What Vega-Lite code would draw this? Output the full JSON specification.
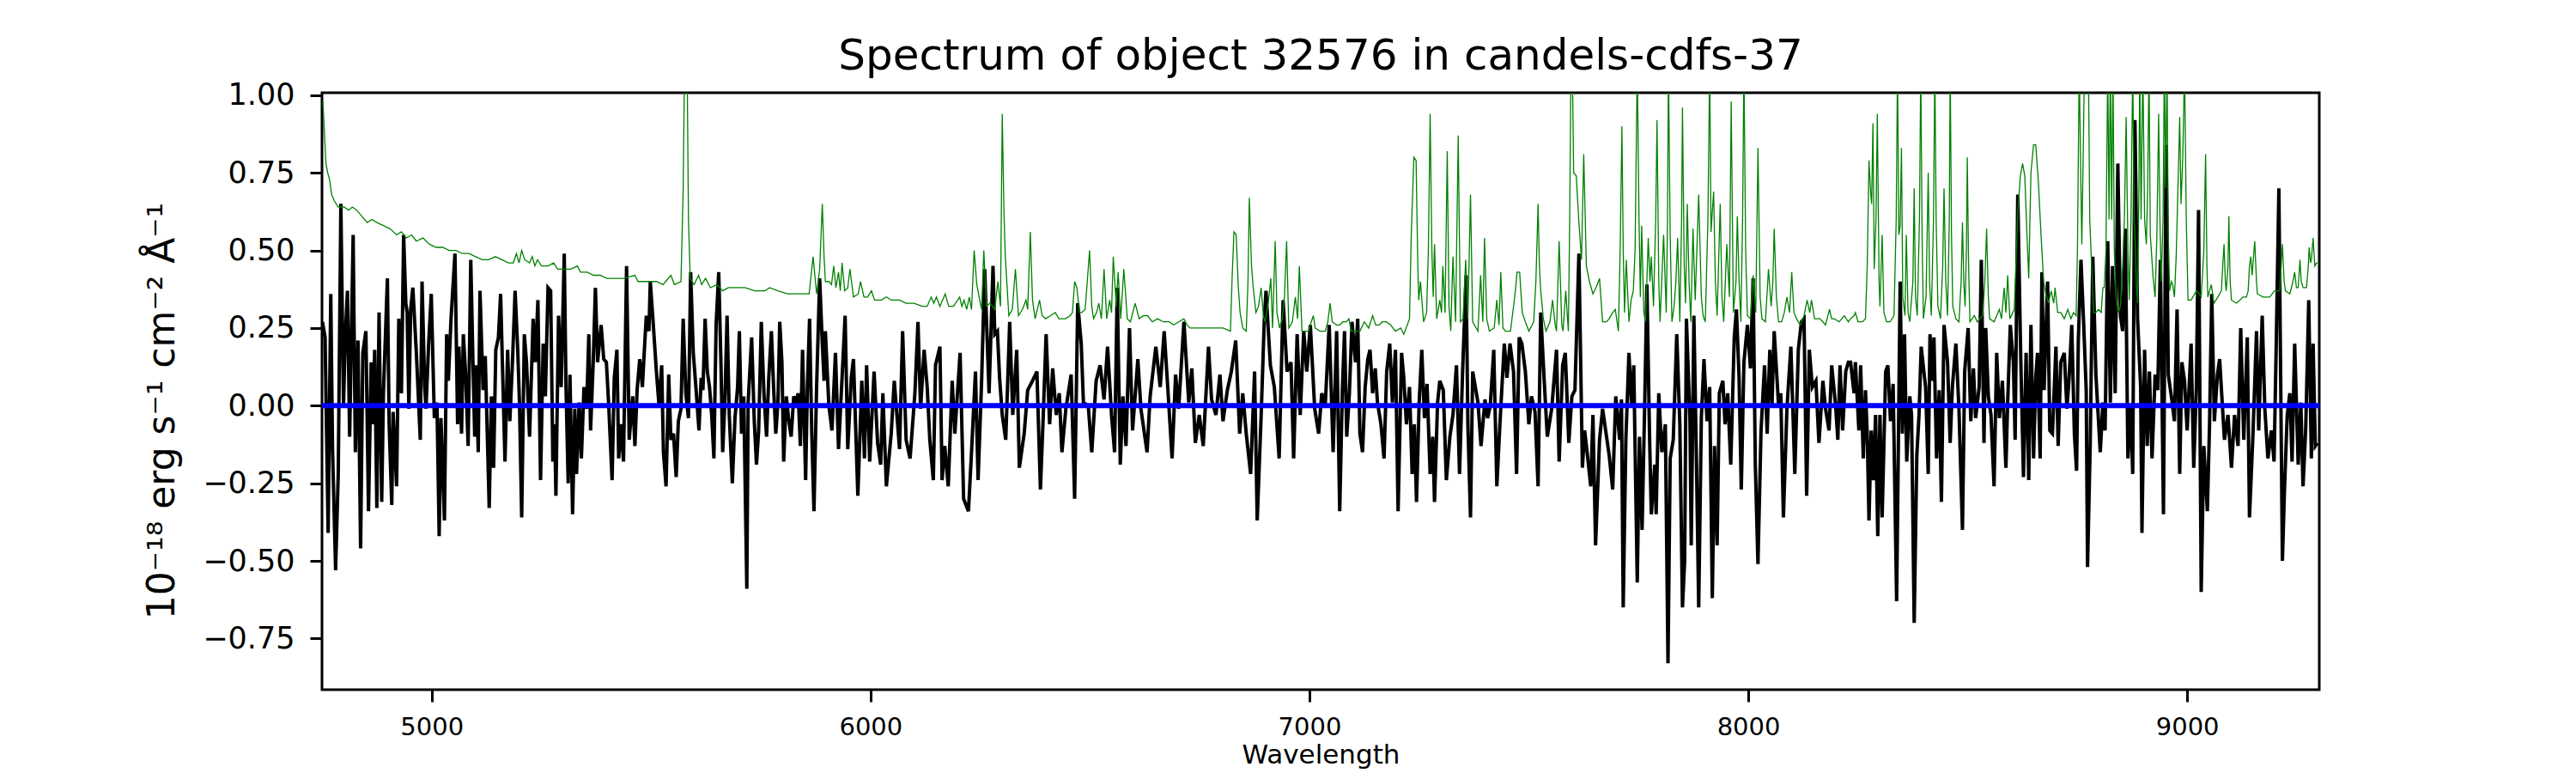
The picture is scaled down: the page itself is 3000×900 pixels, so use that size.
{
  "$schema": "https://vega.github.io/schema/vega-lite/v6.json",
  "description": "Spectrum of object 32576: flux (black), noise (green) and zero model (blue).",
  "autosize": {"type": "none"},
  "padding": {"left": 375, "top": 108, "right": 299, "bottom": 97},
  "width": 2326,
  "height": 695,
  "background": "white",
  "title": {
    "text": "Spectrum of object 32576 in candels-cdfs-37",
    "font": "DejaVu Sans",
    "fontSize": 50,
    "fontWeight": "normal",
    "color": "#000000",
    "anchor": "middle",
    "baseline": "alphabetic",
    "offset": 25,
    "dy": 62
  },
  "datasets": {
    "flux": [
      {"wl":4751,"v":0.27},{"wl":4757,"v":0.22},{"wl":4764,"v":-0.41},{"wl":4770,"v":0.36},{"wl":4774,"v":-0.14},{"wl":4781,"v":-0.53},{"wl":4787,"v":-0.22},{"wl":4793,"v":0.65},{"wl":4799,"v":0},{"wl":4803,"v":0.22},{"wl":4808,"v":0.37},{"wl":4813,"v":-0.10},{"wl":4821,"v":0.55},{"wl":4826,"v":-0.15},{"wl":4832,"v":0.21},{"wl":4838,"v":-0.46},{"wl":4843,"v":0.17},{"wl":4850,"v":0.24},{"wl":4856,"v":-0.34},{"wl":4862,"v":0.14},{"wl":4866,"v":-0.06},{"wl":4870,"v":0.18},{"wl":4875,"v":-0.33},{"wl":4880,"v":0.30},{"wl":4886,"v":-0.31},{"wl":4890,"v":0.04},{"wl":4899,"v":0.41},{"wl":4903,"v":-0.06},{"wl":4909,"v":-0.32},{"wl":4912,"v":-0.02},{"wl":4920,"v":-0.26},{"wl":4925,"v":0.28},{"wl":4931,"v":0.04},{"wl":4936,"v":0.55},{"wl":4941,"v":0.33},{"wl":4944,"v":0.30},{"wl":4948,"v":-0.01},{"wl":4952,"v":0.31},{"wl":4957,"v":0.38},{"wl":4965,"v":0.17},{"wl":4974,"v":-0.11},{"wl":4978,"v":0.40},{"wl":4984,"v":0.06},{"wl":4987,"v":-0.01},{"wl":4993,"v":0.20},{"wl":4999,"v":0.36},{"wl":5006,"v":-0.04},{"wl":5012,"v":0.01},{"wl":5017,"v":-0.42},{"wl":5021,"v":-0.04},{"wl":5029,"v":-0.37},{"wl":5034,"v":0.23},{"wl":5038,"v":0.08},{"wl":5044,"v":0.28},{"wl":5053,"v":0.49},{"wl":5059,"v":-0.06},{"wl":5062,"v":0.19},{"wl":5068,"v":-0.09},{"wl":5072,"v":0.23},{"wl":5077,"v":0.11},{"wl":5083,"v":-0.13},{"wl":5089,"v":0.47},{"wl":5094,"v":0.14},{"wl":5098,"v":-0.10},{"wl":5101,"v":0.13},{"wl":5106,"v":-0.15},{"wl":5110,"v":0.37},{"wl":5117,"v":0.05},{"wl":5122,"v":0.16},{"wl":5131,"v":-0.33},{"wl":5136,"v":0.03},{"wl":5141,"v":-0.20},{"wl":5146,"v":0.18},{"wl":5152,"v":0.22},{"wl":5157,"v":0.36},{"wl":5161,"v":0.14},{"wl":5167,"v":-0.18},{"wl":5173,"v":0.18},{"wl":5178,"v":-0.05},{"wl":5184,"v":0.14},{"wl":5190,"v":0.37},{"wl":5196,"v":0.18},{"wl":5200,"v":0.01},{"wl":5205,"v":-0.36},{"wl":5211,"v":0.23},{"wl":5216,"v":0.14},{"wl":5223,"v":-0.10},{"wl":5231,"v":0.28},{"wl":5236,"v":0.14},{"wl":5242,"v":0.34},{"wl":5248,"v":-0.24},{"wl":5254,"v":0.20},{"wl":5259,"v":0.03},{"wl":5265,"v":0.38},{"wl":5271,"v":0.37},{"wl":5276,"v":-0.18},{"wl":5280,"v":-0.06},{"wl":5283,"v":-0.29},{"wl":5289,"v":0.29},{"wl":5295,"v":0.06},{"wl":5302,"v":0.49},{"wl":5306,"v":0.06},{"wl":5311,"v":-0.25},{"wl":5315,"v":0.10},{"wl":5321,"v":-0.35},{"wl":5326,"v":-0.01},{"wl":5330,"v":-0.22},{"wl":5336,"v":0.01},{"wl":5341,"v":-0.17},{"wl":5347,"v":0.06},{"wl":5353,"v":-0.01},{"wl":5358,"v":0.23},{"wl":5362,"v":-0.08},{"wl":5368,"v":0.14},{"wl":5373,"v":0.38},{"wl":5378,"v":0.14},{"wl":5386,"v":0.26},{"wl":5392,"v":0.15},{"wl":5398,"v":0.14},{"wl":5403,"v":0.01},{"wl":5411,"v":-0.24},{"wl":5416,"v":0.09},{"wl":5422,"v":0.18},{"wl":5426,"v":-0.17},{"wl":5431,"v":-0.06},{"wl":5437,"v":-0.18},{"wl":5444,"v":0.45},{"wl":5450,"v":-0.11},{"wl":5458,"v":0.03},{"wl":5463,"v":-0.13},{"wl":5468,"v":0.05},{"wl":5474,"v":0.15},{"wl":5480,"v":0.06},{"wl":5485,"v":0.19},{"wl":5489,"v":0.29},{"wl":5495,"v":0.24},{"wl":5498,"v":0.40},{"wl":5504,"v":0.28},{"wl":5512,"v":0.11},{"wl":5518,"v":0},{"wl":5524,"v":0.13},{"wl":5528,"v":-0.15},{"wl":5534,"v":-0.26},{"wl":5540,"v":0.10},{"wl":5545,"v":-0.11},{"wl":5551,"v":-0.09},{"wl":5557,"v":-0.23},{"wl":5562,"v":-0.05},{"wl":5568,"v":-0.01},{"wl":5573,"v":0.28},{"wl":5579,"v":0.04},{"wl":5585,"v":-0.04},{"wl":5590,"v":0.43},{"wl":5596,"v":0.17},{"wl":5602,"v":0.06},{"wl":5609,"v":-0.08},{"wl":5614,"v":0.09},{"wl":5618,"v":0.05},{"wl":5623,"v":0.28},{"wl":5628,"v":0.11},{"wl":5633,"v":0.06},{"wl":5638,"v":-0.03},{"wl":5643,"v":-0.17},{"wl":5648,"v":0.26},{"wl":5654,"v":0.43},{"wl":5659,"v":0.14},{"wl":5663,"v":-0.15},{"wl":5668,"v":0.01},{"wl":5673,"v":0.29},{"wl":5678,"v":-0.03},{"wl":5685,"v":-0.25},{"wl":5691,"v":-0.04},{"wl":5697,"v":0.06},{"wl":5701,"v":0.24},{"wl":5706,"v":-0.09},{"wl":5711,"v":0.03},{"wl":5718,"v":-0.59},{"wl":5721,"v":0.01},{"wl":5729,"v":0.22},{"wl":5735,"v":-0.05},{"wl":5740,"v":-0.19},{"wl":5745,"v":-0.08},{"wl":5751,"v":0.27},{"wl":5757,"v":0.04},{"wl":5763,"v":-0.10},{"wl":5768,"v":0.09},{"wl":5774,"v":0.24},{"wl":5779,"v":0.06},{"wl":5784,"v":-0.09},{"wl":5789,"v":0.01},{"wl":5793,"v":0.27},{"wl":5798,"v":0.14},{"wl":5802,"v":-0.18},{"wl":5808,"v":0.03},{"wl":5813,"v":-0.04},{"wl":5819,"v":-0.10},{"wl":5825,"v":0.03},{"wl":5830,"v":0.01},{"wl":5835,"v":0.04},{"wl":5840,"v":-0.13},{"wl":5845,"v":0.18},{"wl":5852,"v":-0.24},{"wl":5856,"v":0.06},{"wl":5861,"v":0.28},{"wl":5866,"v":-0.09},{"wl":5871,"v":-0.34},{"wl":5877,"v":0.06},{"wl":5884,"v":0.41},{"wl":5890,"v":0.20},{"wl":5894,"v":0.08},{"wl":5897,"v":0.24},
      {"wl":5905,"v":0},{"wl":5912,"v":-0.08},{"wl":5920,"v":0.17},{"wl":5927,"v":-0.14},{"wl":5935,"v":0.09},{"wl":5942,"v":0.29},{"wl":5948,"v":-0.14},{"wl":5956,"v":0.09},{"wl":5961,"v":0.15},{"wl":5971,"v":-0.29},{"wl":5980,"v":0.08},{"wl":5986,"v":-0.17},{"wl":5991,"v":0.13},{"wl":5998,"v":-0.18},{"wl":6008,"v":0.11},{"wl":6016,"v":-0.12},{"wl":6023,"v":-0.19},{"wl":6028,"v":0.04},{"wl":6036,"v":-0.26},{"wl":6047,"v":-0.09},{"wl":6054,"v":0.08},{"wl":6066,"v":-0.14},{"wl":6073,"v":0.24},{"wl":6081,"v":-0.11},{"wl":6090,"v":-0.17},{"wl":6101,"v":0.04},{"wl":6108,"v":0.27},{"wl":6114,"v":-0.01},{"wl":6122,"v":0.18},{"wl":6129,"v":0.06},{"wl":6135,"v":-0.11},{"wl":6143,"v":-0.24},{"wl":6148,"v":0.13},{"wl":6158,"v":0.19},{"wl":6163,"v":-0.24},{"wl":6169,"v":-0.13},{"wl":6177,"v":-0.26},{"wl":6186,"v":0.08},{"wl":6192,"v":-0.09},{"wl":6204,"v":0.17},{"wl":6212,"v":-0.30},{"wl":6223,"v":-0.34},{"wl":6230,"v":-0.15},{"wl":6239,"v":0.11},{"wl":6245,"v":-0.24},{"wl":6253,"v":0.08},{"wl":6260,"v":0.44},{"wl":6270,"v":0.04},{"wl":6279,"v":0.45},{"wl":6283,"v":0.23},{"wl":6289,"v":0.24},{"wl":6294,"v":0.09},{"wl":6300,"v":-0.03},{"wl":6308,"v":-0.11},{"wl":6317,"v":0.27},{"wl":6324,"v":-0.03},{"wl":6333,"v":0.18},{"wl":6339,"v":-0.20},{"wl":6350,"v":-0.09},{"wl":6358,"v":0.05},{"wl":6369,"v":0.08},{"wl":6379,"v":0.11},{"wl":6387,"v":-0.27},{"wl":6393,"v":-0.05},{"wl":6400,"v":0.23},{"wl":6408,"v":-0.06},{"wl":6415,"v":0.12},{"wl":6423,"v":-0.03},{"wl":6430,"v":0.04},{"wl":6436,"v":-0.15},{"wl":6445,"v":-0.01},{"wl":6457,"v":0.10},{"wl":6465,"v":-0.30},{"wl":6472,"v":0.33},{"wl":6480,"v":0.20},{"wl":6485,"v":0.01},{"wl":6496,"v":0},{"wl":6504,"v":-0.15},{"wl":6514,"v":0.08},{"wl":6523,"v":0.13},{"wl":6532,"v":0.02},{"wl":6540,"v":0.19},{"wl":6549,"v":-0.03},{"wl":6556,"v":-0.15},{"wl":6562,"v":0.38},{"wl":6569,"v":-0.19},{"wl":6575,"v":0.03},{"wl":6582,"v":-0.13},{"wl":6590,"v":0.25},{"wl":6597,"v":-0.08},{"wl":6609,"v":0.15},{"wl":6616,"v":-0.01},{"wl":6630,"v":-0.15},{"wl":6637,"v":0.03},{"wl":6650,"v":0.19},{"wl":6660,"v":0.06},{"wl":6669,"v":0.24},{"wl":6678,"v":0.04},{"wl":6687,"v":-0.17},{"wl":6695,"v":0.10},{"wl":6702,"v":-0.01},{"wl":6714,"v":0.27},{"wl":6725,"v":0.01},{"wl":6732,"v":0.12},{"wl":6740,"v":-0.12},{"wl":6749,"v":-0.03},{"wl":6758,"v":-0.13},{"wl":6770,"v":0.19},{"wl":6777,"v":0.02},{"wl":6787,"v":-0.03},{"wl":6796,"v":0.10},{"wl":6803,"v":-0.05},{"wl":6813,"v":0.05},{"wl":6822,"v":0.11},{"wl":6832,"v":0.21},{"wl":6841,"v":-0.09},{"wl":6848,"v":0.04},{"wl":6856,"v":-0.09},{"wl":6866,"v":-0.22},{"wl":6875,"v":0.11},{"wl":6881,"v":-0.37},{"wl":6890,"v":-0.03},{"wl":6897,"v":0.27},{"wl":6901,"v":0.37},{"wl":6911,"v":0.13},{"wl":6920,"v":0.06},{"wl":6931,"v":-0.17},{"wl":6940,"v":0.34},{"wl":6949,"v":0.11},{"wl":6958,"v":0.14},{"wl":6964,"v":-0.17},{"wl":6972,"v":0.23},{"wl":6979,"v":-0.03},{"wl":6987,"v":0.24},{"wl":6994,"v":0.11},{"wl":7002,"v":0.26},{"wl":7012,"v":-0.01},{"wl":7021,"v":-0.09},{"wl":7028,"v":0.04},{"wl":7036,"v":0},{"wl":7045,"v":0.26},{"wl":7054,"v":-0.15},{"wl":7062,"v":0.24},
      {"wl":7069,"v":-0.34},{"wl":7075,"v":0.05},{"wl":7080,"v":0.24},{"wl":7085,"v":-0.10},{"wl":7091,"v":0.04},{"wl":7097,"v":0.27},{"wl":7105,"v":0.14},{"wl":7110,"v":0.28},{"wl":7115,"v":-0.09},{"wl":7121,"v":-0.15},{"wl":7127,"v":0.06},{"wl":7133,"v":0.15},{"wl":7138,"v":0.18},{"wl":7144,"v":0.04},{"wl":7150,"v":0.12},{"wl":7155,"v":0.01},{"wl":7163,"v":-0.06},{"wl":7170,"v":-0.17},{"wl":7176,"v":0.11},{"wl":7183,"v":0.20},{"wl":7189,"v":0.01},{"wl":7196,"v":0.18},{"wl":7202,"v":-0.34},{"wl":7210,"v":0.17},{"wl":7215,"v":0.09},{"wl":7221,"v":-0.06},{"wl":7228,"v":0.06},{"wl":7234,"v":-0.22},{"wl":7239,"v":-0.06},{"wl":7244,"v":-0.31},{"wl":7250,"v":0.01},{"wl":7256,"v":0.18},{"wl":7262,"v":-0.04},{"wl":7268,"v":0.07},{"wl":7275,"v":-0.22},{"wl":7281,"v":-0.10},{"wl":7285,"v":-0.31},{"wl":7292,"v":0.01},{"wl":7297,"v":0.08},{"wl":7305,"v":0.05},{"wl":7312,"v":-0.24},{"wl":7320,"v":-0.10},{"wl":7327,"v":-0.03},{"wl":7335,"v":0.13},{"wl":7342,"v":-0.22},{"wl":7349,"v":0.11},{"wl":7357,"v":0.42},{"wl":7361,"v":-0.06},{"wl":7367,"v":-0.36},{"wl":7372,"v":0.11},{"wl":7378,"v":0.06},{"wl":7384,"v":0.01},{"wl":7391,"v":-0.13},{"wl":7400,"v":0.02},{"wl":7406,"v":-0.04},{"wl":7412,"v":0},{"wl":7420,"v":0.18},{"wl":7427,"v":-0.26},{"wl":7434,"v":-0.06},{"wl":7444,"v":0.20},{"wl":7450,"v":0.09},{"wl":7457,"v":0.20},{"wl":7465,"v":0.11},{"wl":7472,"v":-0.22},{"wl":7478,"v":0.22},{"wl":7484,"v":0.20},{"wl":7492,"v":0.11},{"wl":7500,"v":-0.06},{"wl":7506,"v":0.03},{"wl":7514,"v":-0.02},{"wl":7521,"v":-0.26},{"wl":7527,"v":0.30},{"wl":7535,"v":0.08},{"wl":7542,"v":-0.10},{"wl":7552,"v":-0.01},{"wl":7563,"v":0.18},{"wl":7569,"v":-0.18},{"wl":7577,"v":0.13},{"wl":7583,"v":0.17},{"wl":7591,"v":-0.12},{"wl":7598,"v":0.03},{"wl":7605,"v":0.05},{"wl":7614,"v":0.49},{"wl":7622,"v":-0.20},{"wl":7627,"v":-0.08},{"wl":7632,"v":-0.14},{"wl":7641,"v":-0.26},{"wl":7646,"v":-0.03},{"wl":7652,"v":-0.45},{"wl":7661,"v":-0.11},{"wl":7668,"v":-0.01},{"wl":7677,"v":-0.10},{"wl":7683,"v":-0.16},{"wl":7691,"v":-0.27},{"wl":7698,"v":0.03},{"wl":7707,"v":-0.11},{"wl":7711,"v":0.02},{"wl":7715,"v":-0.65},{"wl":7721,"v":-0.11},{"wl":7728,"v":0.17},{"wl":7734,"v":0},{"wl":7739,"v":0.13},{"wl":7747,"v":-0.57},{"wl":7752,"v":-0.10},{"wl":7758,"v":-0.40},{"wl":7764,"v":0.01},{"wl":7769,"v":0.39},{"wl":7775,"v":-0.10},{"wl":7779,"v":-0.35},{"wl":7787,"v":-0.19},{"wl":7790,"v":-0.35},{"wl":7796,"v":0.04},{"wl":7803,"v":-0.15},{"wl":7811,"v":-0.06},{"wl":7817,"v":-0.83},{"wl":7822,"v":-0.17},{"wl":7829,"v":-0.11},{"wl":7837,"v":0.23},{"wl":7844,"v":-0.06},{"wl":7850,"v":-0.65},{"wl":7855,"v":-0.50},{"wl":7859,"v":0.28},{"wl":7867,"v":-0.04},{"wl":7870,"v":-0.45},{"wl":7876,"v":0.29},{"wl":7882,"v":-0.19},{"wl":7887,"v":-0.65},{"wl":7893,"v":-0.04},{"wl":7899,"v":0.15},{"wl":7906,"v":-0.05},{"wl":7912,"v":0.06},{"wl":7918,"v":-0.62},{"wl":7923,"v":-0.13},{"wl":7929,"v":-0.45},{"wl":7934,"v":0.04},{"wl":7942,"v":0.08},{"wl":7947,"v":-0.06},{"wl":7953,"v":0.04},{"wl":7960,"v":-0.19},{"wl":7968,"v":0.22},{"wl":7973,"v":0.31},{"wl":7979,"v":0.09},{"wl":7984,"v":-0.27},{"wl":7990,"v":0.14},{"wl":7998,"v":0.26},{"wl":8005,"v":0.12},{"wl":8011,"v":0.41},{"wl":8016,"v":-0.19},{"wl":8022,"v":-0.51},{"wl":8029,"v":-0.08},{"wl":8037,"v":0.13},{"wl":8043,"v":-0.09},{"wl":8049,"v":0.18},{"wl":8054,"v":0},{"wl":8059,"v":0.24},{"wl":8069,"v":0},{"wl":8074,"v":0.04},{"wl":8080,"v":-0.36},{"wl":8088,"v":-0.01},{"wl":8097,"v":0.19},{"wl":8103,"v":-0.08},{"wl":8106,"v":-0.22},{"wl":8114,"v":0.18},{"wl":8121,"v":0.27},{"wl":8127,"v":0.28},{"wl":8133,"v":-0.29},{"wl":8139,"v":0.18},{"wl":8146,"v":0.06},{"wl":8154,"v":0.08},{"wl":8161,"v":-0.12},{"wl":8170,"v":0.08},{"wl":8176,"v":-0.01},{"wl":8184,"v":-0.08},{"wl":8190,"v":0.13},{"wl":8199,"v":0},{"wl":8204,"v":-0.11},{"wl":8209,"v":0.13},{"wl":8215,"v":-0.08},{"wl":8222,"v":0.11},{"wl":8228,"v":0.14},
      {"wl":8233,"v":0.14},{"wl":8241,"v":0.04},{"wl":8244,"v":0.14},{"wl":8252,"v":-0.08},{"wl":8256,"v":0.13},{"wl":8262,"v":-0.17},{"wl":8267,"v":0.05},{"wl":8271,"v":-0.09},{"wl":8275,"v":-0.37},{"wl":8280,"v":-0.08},{"wl":8285,"v":-0.24},{"wl":8290,"v":-0.03},{"wl":8295,"v":-0.42},{"wl":8300,"v":-0.03},{"wl":8305,"v":-0.36},{"wl":8313,"v":0.11},{"wl":8318,"v":0.13},{"wl":8324,"v":-0.05},{"wl":8330,"v":0.07},{"wl":8338,"v":-0.63},{"wl":8346,"v":0.40},{"wl":8351,"v":-0.09},{"wl":8356,"v":0.23},{"wl":8361,"v":-0.18},{"wl":8368,"v":0.03},{"wl":8372,"v":-0.03},{"wl":8378,"v":-0.70},{"wl":8384,"v":-0.16},{"wl":8389,"v":-0.03},{"wl":8394,"v":0.19},{"wl":8400,"v":0.11},{"wl":8404,"v":0.06},{"wl":8410,"v":-0.22},{"wl":8414,"v":0.23},{"wl":8419,"v":0.08},{"wl":8423,"v":0.22},{"wl":8429,"v":-0.17},{"wl":8435,"v":0.05},{"wl":8440,"v":-0.31},{"wl":8446,"v":0.26},{"wl":8454,"v":0.14},{"wl":8460,"v":-0.12},{"wl":8465,"v":0.06},{"wl":8473,"v":0.20},{"wl":8480,"v":-0.01},{"wl":8488,"v":-0.40},{"wl":8493,"v":0.11},{"wl":8501,"v":0.25},{"wl":8507,"v":-0.05},{"wl":8513,"v":0.12},{"wl":8518,"v":-0.04},{"wl":8526,"v":0.06},{"wl":8531,"v":0.47},{"wl":8537,"v":-0.12},{"wl":8541,"v":0.25},{"wl":8547,"v":0.03},{"wl":8553,"v":-0.03},{"wl":8560,"v":-0.26},{"wl":8566,"v":0.17},{"wl":8572,"v":-0.04},{"wl":8579,"v":0.08},{"wl":8587,"v":-0.20},{"wl":8591,"v":0.01},{"wl":8597,"v":0.26},{"wl":8604,"v":0.14},{"wl":8608,"v":-0.11},{"wl":8614,"v":0.68},{"wl":8621,"v":0.14},{"wl":8627,"v":-0.23},{"wl":8633,"v":0.17},{"wl":8639,"v":-0.24},{"wl":8644,"v":0.26},{"wl":8650,"v":-0.17},{"wl":8655,"v":0.09},{"wl":8659,"v":0.17},{"wl":8665,"v":-0.17},{"wl":8669,"v":0.43},{"wl":8674,"v":0.05},{"wl":8682,"v":0.40},{"wl":8687,"v":-0.08},{"wl":8693,"v":-0.09},{"wl":8701,"v":0.19},{"wl":8706,"v":-0.13},{"wl":8712,"v":0.14},{"wl":8720,"v":0.17},{"wl":8726,"v":-0.01},{"wl":8731,"v":0.09},{"wl":8737,"v":0.26},{"wl":8743,"v":-0.09},{"wl":8748,"v":-0.21},{"wl":8752,"v":0.21},{"wl":8758,"v":0.47},{"wl":8764,"v":0.27},{"wl":8770,"v":0.05},{"wl":8773,"v":-0.52},{"wl":8779,"v":-0.13},{"wl":8785,"v":0.48},{"wl":8792,"v":0.10},{"wl":8798,"v":-0.05},{"wl":8802,"v":-0.15},{"wl":8808,"v":0.01},{"wl":8813,"v":-0.08},{"wl":8819,"v":0.53},{"wl":8825,"v":0.01},{"wl":8830,"v":0.45},{"wl":8836,"v":0.04},{"wl":8842,"v":0.78},{"wl":8848,"v":0.29},{"wl":8853,"v":0.24},{"wl":8859,"v":0.57},{"wl":8865,"v":-0.17},{"wl":8871,"v":0},{"wl":8876,"v":-0.22},{"wl":8881,"v":0.92},{"wl":8887,"v":0.28},{"wl":8894,"v":0.06},{"wl":8897,"v":-0.41},{"wl":8903,"v":0.18},{"wl":8909,"v":-0.13},{"wl":8914,"v":0.11},{"wl":8920,"v":-0.17},{"wl":8927,"v":0.10},{"wl":8933,"v":0.05},{"wl":8939,"v":0.47},{"wl":8946,"v":-0.35},{"wl":8952,"v":0.84},{"wl":8957,"v":0.10},{"wl":8964,"v":0.03},{"wl":8971,"v":-0.05},{"wl":8977,"v":0.31},{"wl":8983,"v":-0.22},{"wl":8988,"v":0.14},{"wl":8994,"v":0.08},{"wl":9000,"v":-0.08},{"wl":9009,"v":0.20},{"wl":9015,"v":-0.20},{"wl":9021,"v":0.06},{"wl":9026,"v":0.63},{"wl":9032,"v":-0.60},{"wl":9038,"v":-0.13},{"wl":9046,"v":-0.34},{"wl":9051,"v":-0.06},{"wl":9056,"v":0.36},{"wl":9062,"v":-0.05},{"wl":9069,"v":0.10},{"wl":9074,"v":0.15},{"wl":9079,"v":0.03},{"wl":9085,"v":-0.11},{"wl":9093,"v":-0.03},{"wl":9101,"v":-0.20},{"wl":9108,"v":-0.03},{"wl":9116,"v":-0.13},{"wl":9122,"v":0.25},{"wl":9129,"v":-0.11},{"wl":9137,"v":0.22},{"wl":9142,"v":-0.36},{"wl":9150,"v":-0.09},{"wl":9158,"v":0.24},{"wl":9163,"v":-0.08},{"wl":9171,"v":0.29},{"wl":9177,"v":-0.01},{"wl":9184,"v":-0.17},{"wl":9192,"v":-0.08},{"wl":9198,"v":-0.18},{"wl":9203,"v":0.20},{"wl":9209,"v":0.70},{"wl":9217,"v":-0.50},{"wl":9222,"v":-0.26},{"wl":9228,"v":-0.03},{"wl":9234,"v":0.04},{"wl":9239,"v":-0.18},{"wl":9245,"v":0.20},{"wl":9253,"v":-0.19},{"wl":9259,"v":0.01},{"wl":9264,"v":-0.26},{"wl":9270,"v":-0.08},{"wl":9277,"v":0.34},{"wl":9283,"v":-0.17},{"wl":9287,"v":0.20},{"wl":9292,"v":-0.13},{"wl":9297,"v":-0.12}
    ],
    "noise": [
      {"wl":4752,"v":0.98},{"wl":4759,"v":0.78},{"wl":4763,"v":0.75},{"wl":4767,"v":0.73},{"wl":4772,"v":0.68},{"wl":4778,"v":0.66},{"wl":4787,"v":0.64},{"wl":4800,"v":0.64},{"wl":4811,"v":0.63},{"wl":4819,"v":0.64},{"wl":4829,"v":0.63},{"wl":4841,"v":0.61},{"wl":4853,"v":0.59},{"wl":4864,"v":0.60},{"wl":4875,"v":0.59},{"wl":4890,"v":0.58},{"wl":4905,"v":0.57},{"wl":4920,"v":0.55},{"wl":4931,"v":0.56},{"wl":4942,"v":0.54},{"wl":4954,"v":0.55},{"wl":4965,"v":0.53},{"wl":4980,"v":0.54},{"wl":4995,"v":0.52},{"wl":5010,"v":0.51},{"wl":5025,"v":0.51},{"wl":5040,"v":0.50},{"wl":5055,"v":0.50},{"wl":5070,"v":0.49},{"wl":5085,"v":0.49},{"wl":5100,"v":0.48},{"wl":5115,"v":0.47},{"wl":5130,"v":0.47},{"wl":5145,"v":0.48},{"wl":5160,"v":0.47},{"wl":5175,"v":0.46},{"wl":5186,"v":0.46},{"wl":5193,"v":0.49},{"wl":5199,"v":0.46},{"wl":5205,"v":0.50},{"wl":5212,"v":0.47},{"wl":5223,"v":0.46},{"wl":5229,"v":0.48},{"wl":5235,"v":0.45},{"wl":5241,"v":0.47},{"wl":5250,"v":0.45},{"wl":5265,"v":0.45},{"wl":5278,"v":0.46},{"wl":5287,"v":0.44},{"wl":5302,"v":0.44},{"wl":5317,"v":0.44},{"wl":5332,"v":0.45},{"wl":5339,"v":0.43},{"wl":5354,"v":0.43},{"wl":5369,"v":0.42},{"wl":5384,"v":0.42},{"wl":5399,"v":0.41},{"wl":5414,"v":0.41},{"wl":5437,"v":0.41},{"wl":5463,"v":0.42},{"wl":5470,"v":0.40},{"wl":5489,"v":0.40},{"wl":5512,"v":0.40},{"wl":5527,"v":0.39},{"wl":5545,"v":0.42},{"wl":5553,"v":0.39},{"wl":5568,"v":0.40},{"wl":5573,"v":0.70},{"wl":5576,"v":1.1},{"wl":5582,"v":1.1},{"wl":5585,"v":0.60},{"wl":5589,"v":0.41},{"wl":5598,"v":0.39},{"wl":5608,"v":0.42},{"wl":5615,"v":0.39},{"wl":5624,"v":0.41},{"wl":5635,"v":0.38},{"wl":5650,"v":0.39},{"wl":5663,"v":0.37},{"wl":5676,"v":0.38},{"wl":5695,"v":0.38},{"wl":5714,"v":0.38},{"wl":5736,"v":0.37},{"wl":5759,"v":0.37},{"wl":5770,"v":0.38},{"wl":5789,"v":0.37},{"wl":5811,"v":0.36},{"wl":5834,"v":0.36},{"wl":5860,"v":0.36},{"wl":5869,"v":0.48},{"wl":5877,"v":0.36},{"wl":5884,"v":0.44},{"wl":5890,"v":0.65},{"wl":5894,"v":0.48},{"wl":5897,"v":0.40},
      {"wl":5905,"v":0.40},{"wl":5911,"v":0.39},{"wl":5916,"v":0.45},{"wl":5921,"v":0.38},{"wl":5927,"v":0.43},{"wl":5931,"v":0.37},{"wl":5935,"v":0.46},{"wl":5941,"v":0.37},{"wl":5948,"v":0.38},{"wl":5953,"v":0.44},{"wl":5961,"v":0.35},{"wl":5972,"v":0.36},{"wl":5977,"v":0.40},{"wl":5985,"v":0.35},{"wl":5993,"v":0.35},{"wl":6002,"v":0.37},{"wl":6009,"v":0.34},{"wl":6024,"v":0.34},{"wl":6036,"v":0.35},{"wl":6047,"v":0.34},{"wl":6066,"v":0.34},{"wl":6081,"v":0.33},{"wl":6099,"v":0.33},{"wl":6118,"v":0.32},{"wl":6129,"v":0.32},{"wl":6138,"v":0.35},{"wl":6144,"v":0.33},{"wl":6150,"v":0.35},{"wl":6158,"v":0.32},{"wl":6170,"v":0.36},{"wl":6178,"v":0.32},{"wl":6189,"v":0.32},{"wl":6203,"v":0.35},{"wl":6208,"v":0.32},{"wl":6213,"v":0.34},{"wl":6219,"v":0.31},{"wl":6225,"v":0.35},{"wl":6230,"v":0.31},{"wl":6236,"v":0.50},{"wl":6242,"v":0.39},{"wl":6253,"v":0.31},{"wl":6258,"v":0.50},{"wl":6264,"v":0.32},{"wl":6272,"v":0.33},{"wl":6283,"v":0.31},{"wl":6290,"v":0.40},{"wl":6296,"v":0.32},{"wl":6300,"v":0.94},{"wl":6304,"v":0.62},{"wl":6307,"v":0.48},{"wl":6315,"v":0.29},{"wl":6323,"v":0.31},{"wl":6330,"v":0.44},{"wl":6337,"v":0.29},{"wl":6346,"v":0.31},{"wl":6354,"v":0.34},{"wl":6358,"v":0.31},{"wl":6364,"v":0.56},{"wl":6369,"v":0.34},{"wl":6375,"v":0.28},{"wl":6385,"v":0.34},{"wl":6391,"v":0.29},{"wl":6399,"v":0.28},{"wl":6410,"v":0.29},{"wl":6421,"v":0.30},{"wl":6429,"v":0.28},{"wl":6444,"v":0.28},{"wl":6455,"v":0.29},{"wl":6460,"v":0.30},{"wl":6465,"v":0.40},{"wl":6470,"v":0.38},{"wl":6476,"v":0.30},{"wl":6481,"v":0.30},{"wl":6489,"v":0.31},{"wl":6499,"v":0.50},{"wl":6504,"v":0.32},{"wl":6508,"v":0.28},{"wl":6515,"v":0.30},{"wl":6520,"v":0.33},{"wl":6526,"v":0.28},{"wl":6532,"v":0.44},{"wl":6538,"v":0.28},{"wl":6545,"v":0.34},{"wl":6549,"v":0.30},{"wl":6553,"v":0.48},{"wl":6560,"v":0.32},{"wl":6564,"v":0.43},{"wl":6570,"v":0.28},{"wl":6577,"v":0.44},{"wl":6585,"v":0.28},{"wl":6592,"v":0.27},{"wl":6603,"v":0.33},{"wl":6612,"v":0.28},{"wl":6622,"v":0.29},{"wl":6631,"v":0.29},{"wl":6642,"v":0.27},{"wl":6654,"v":0.28},{"wl":6667,"v":0.27},{"wl":6680,"v":0.27},{"wl":6691,"v":0.26},{"wl":6702,"v":0.27},{"wl":6714,"v":0.28},{"wl":6721,"v":0.26},{"wl":6728,"v":0.25},{"wl":6751,"v":0.25},{"wl":6773,"v":0.25},{"wl":6788,"v":0.25},{"wl":6803,"v":0.25},{"wl":6820,"v":0.24},{"wl":6824,"v":0.42},{"wl":6828,"v":0.56},{"wl":6833,"v":0.55},{"wl":6838,"v":0.38},{"wl":6842,"v":0.30},{"wl":6848,"v":0.25},{"wl":6856,"v":0.24},{"wl":6860,"v":0.40},{"wl":6863,"v":0.67},{"wl":6868,"v":0.45},{"wl":6872,"v":0.38},{"wl":6878,"v":0.30},{"wl":6884,"v":0.32},{"wl":6890,"v":0.38},{"wl":6895,"v":0.29},{"wl":6899,"v":0.27},{"wl":6906,"v":0.33},{"wl":6912,"v":0.41},{"wl":6916,"v":0.25},{"wl":6922,"v":0.53},{"wl":6926,"v":0.30},{"wl":6932,"v":0.25},{"wl":6938,"v":0.28},{"wl":6943,"v":0.35},{"wl":6948,"v":0.53},{"wl":6953,"v":0.25},{"wl":6961,"v":0.27},{"wl":6968,"v":0.35},{"wl":6973,"v":0.28},{"wl":6977,"v":0.45},{"wl":6983,"v":0.24},{"wl":6998,"v":0.24},{"wl":7004,"v":0.27},{"wl":7009,"v":0.29},{"wl":7013,"v":0.25},{"wl":7024,"v":0.24},{"wl":7036,"v":0.24},{"wl":7042,"v":0.27},{"wl":7047,"v":0.33},{"wl":7052,"v":0.27},{"wl":7062,"v":0.26},
      {"wl":7069,"v":0.26},{"wl":7076,"v":0.27},{"wl":7084,"v":0.27},{"wl":7090,"v":0.28},{"wl":7095,"v":0.24},{"wl":7106,"v":0.24},{"wl":7115,"v":0.24},{"wl":7125,"v":0.27},{"wl":7135,"v":0.25},{"wl":7144,"v":0.29},{"wl":7151,"v":0.26},{"wl":7159,"v":0.26},{"wl":7166,"v":0.27},{"wl":7175,"v":0.27},{"wl":7185,"v":0.26},{"wl":7196,"v":0.24},{"wl":7208,"v":0.25},{"wl":7215,"v":0.23},{"wl":7223,"v":0.26},{"wl":7228,"v":0.28},{"wl":7232,"v":0.55},{"wl":7238,"v":0.80},{"wl":7243,"v":0.79},{"wl":7247,"v":0.45},{"wl":7249,"v":0.34},{"wl":7253,"v":0.40},{"wl":7260,"v":0.27},{"wl":7267,"v":0.30},{"wl":7271,"v":0.50},{"wl":7275,"v":0.94},{"wl":7279,"v":0.50},{"wl":7282,"v":0.35},{"wl":7285,"v":0.52},{"wl":7290,"v":0.28},{"wl":7297,"v":0.34},{"wl":7301,"v":0.30},{"wl":7304,"v":0.45},{"wl":7309,"v":0.30},{"wl":7314,"v":0.82},{"wl":7318,"v":0.32},{"wl":7322,"v":0.24},{"wl":7327,"v":0.48},{"wl":7333,"v":0.27},{"wl":7339,"v":0.87},{"wl":7344,"v":0.27},{"wl":7350,"v":0.28},{"wl":7356,"v":0.47},{"wl":7361,"v":0.28},{"wl":7367,"v":0.68},{"wl":7372,"v":0.27},{"wl":7384,"v":0.24},{"wl":7390,"v":0.42},{"wl":7395,"v":0.27},{"wl":7399,"v":0.54},{"wl":7404,"v":0.28},{"wl":7410,"v":0.24},{"wl":7421,"v":0.25},{"wl":7427,"v":0.34},{"wl":7432,"v":0.26},{"wl":7436,"v":0.43},{"wl":7441,"v":0.25},{"wl":7447,"v":0.24},{"wl":7458,"v":0.24},{"wl":7466,"v":0.33},{"wl":7470,"v":0.38},{"wl":7473,"v":0.43},{"wl":7479,"v":0.43},{"wl":7485,"v":0.30},{"wl":7492,"v":0.27},{"wl":7500,"v":0.24},{"wl":7511,"v":0.27},{"wl":7516,"v":0.40},{"wl":7521,"v":0.65},{"wl":7524,"v":0.45},{"wl":7527,"v":0.37},{"wl":7533,"v":0.28},{"wl":7539,"v":0.24},{"wl":7548,"v":0.27},{"wl":7554,"v":0.34},{"wl":7560,"v":0.26},{"wl":7563,"v":0.24},{"wl":7569,"v":0.53},{"wl":7575,"v":0.26},{"wl":7578,"v":0.24},{"wl":7584,"v":0.37},{"wl":7590,"v":0.24},{"wl":7593,"v":0.60},{"wl":7596,"v":1.1},{"wl":7599,"v":1.1},{"wl":7602,"v":0.75},{"wl":7608,"v":0.74},{"wl":7614,"v":0.59},{"wl":7620,"v":0.47},{"wl":7625,"v":0.81},{"wl":7631,"v":0.45},{"wl":7638,"v":0.40},{"wl":7646,"v":0.36},{"wl":7653,"v":0.38},{"wl":7661,"v":0.41},{"wl":7668,"v":0.27},{"wl":7677,"v":0.27},{"wl":7683,"v":0.28},{"wl":7691,"v":0.30},{"wl":7697,"v":0.31},{"wl":7704,"v":0.24},{"wl":7708,"v":0.50},{"wl":7712,"v":0.90},{"wl":7715,"v":0.50},{"wl":7718,"v":0.30},{"wl":7722,"v":0.47},{"wl":7728,"v":0.27},{"wl":7733,"v":0.34},{"wl":7738,"v":0.37},{"wl":7742,"v":0.50},{"wl":7747,"v":1.1},{"wl":7751,"v":0.60},{"wl":7754,"v":0.35},{"wl":7757,"v":0.58},{"wl":7762,"v":0.30},{"wl":7766,"v":0.27},{"wl":7772,"v":0.54},{"wl":7776,"v":0.40},{"wl":7779,"v":0.48},{"wl":7784,"v":0.32},{"wl":7789,"v":0.60},{"wl":7792,"v":0.92},{"wl":7796,"v":0.40},{"wl":7799,"v":0.27},{"wl":7807,"v":0.55},{"wl":7813,"v":0.30},{"wl":7816,"v":0.60},{"wl":7818,"v":1.1},{"wl":7822,"v":0.55},{"wl":7826,"v":0.27},{"wl":7831,"v":0.32},{"wl":7835,"v":0.40},{"wl":7839,"v":0.54},{"wl":7844,"v":0.27},{"wl":7848,"v":0.60},{"wl":7850,"v":0.96},{"wl":7854,"v":0.45},{"wl":7857,"v":0.33},{"wl":7861,"v":0.65},{"wl":7865,"v":0.40},{"wl":7869,"v":0.27},{"wl":7874,"v":0.57},{"wl":7879,"v":0.34},{"wl":7887,"v":0.68},{"wl":7893,"v":0.35},{"wl":7897,"v":0.29},{"wl":7902,"v":0.27},{"wl":7908,"v":0.60},{"wl":7912,"v":1.1},{"wl":7915,"v":0.56},{"wl":7921,"v":0.69},{"wl":7925,"v":0.40},{"wl":7929,"v":0.29},{"wl":7936,"v":0.65},{"wl":7940,"v":0.35},{"wl":7944,"v":0.27},{"wl":7951,"v":0.52},{"wl":7957,"v":0.35},{"wl":7961,"v":0.98},{"wl":7966,"v":0.30},{"wl":7972,"v":0.40},{"wl":7975,"v":0.61},{"wl":7979,"v":0.40},{"wl":7983,"v":0.27},{"wl":7987,"v":0.60},{"wl":7990,"v":1.1},{"wl":7994,"v":0.50},{"wl":7998,"v":0.29},{"wl":8005,"v":0.28},{"wl":8011,"v":0.42},{"wl":8017,"v":0.30},{"wl":8022,"v":0.83},{"wl":8027,"v":0.35},{"wl":8031,"v":0.28},{"wl":8039,"v":0.27},{"wl":8046,"v":0.44},{"wl":8052,"v":0.32},{"wl":8056,"v":0.40},{"wl":8059,"v":0.57},{"wl":8064,"v":0.35},{"wl":8069,"v":0.27},{"wl":8076,"v":0.27},{"wl":8082,"v":0.30},{"wl":8088,"v":0.35},{"wl":8094,"v":0.30},{"wl":8099,"v":0.43},{"wl":8104,"v":0.30},{"wl":8110,"v":0.28},{"wl":8118,"v":0.26},{"wl":8127,"v":0.29},{"wl":8134,"v":0.34},{"wl":8140,"v":0.30},{"wl":8144,"v":0.34},{"wl":8151,"v":0.28},{"wl":8163,"v":0.28},{"wl":8170,"v":0.27},{"wl":8176,"v":0.26},{"wl":8185,"v":0.31},{"wl":8190,"v":0.28},{"wl":8196,"v":0.28},{"wl":8207,"v":0.27},{"wl":8219,"v":0.29},{"wl":8228,"v":0.27},
      {"wl":8233,"v":0.28},{"wl":8241,"v":0.29},{"wl":8244,"v":0.30},{"wl":8250,"v":0.27},{"wl":8260,"v":0.27},{"wl":8267,"v":0.28},{"wl":8271,"v":0.45},{"wl":8275,"v":0.79},{"wl":8279,"v":0.68},{"wl":8281,"v":0.65},{"wl":8284,"v":0.91},{"wl":8287,"v":0.44},{"wl":8291,"v":0.60},{"wl":8294,"v":0.94},{"wl":8298,"v":0.40},{"wl":8300,"v":0.32},{"wl":8305,"v":0.55},{"wl":8309,"v":0.30},{"wl":8315,"v":0.27},{"wl":8323,"v":0.27},{"wl":8332,"v":0.29},{"wl":8337,"v":0.60},{"wl":8340,"v":1.1},{"wl":8343,"v":0.55},{"wl":8346,"v":0.58},{"wl":8349,"v":0.83},{"wl":8352,"v":0.35},{"wl":8357,"v":0.29},{"wl":8360,"v":0.55},{"wl":8364,"v":0.30},{"wl":8368,"v":0.27},{"wl":8375,"v":0.40},{"wl":8378,"v":0.70},{"wl":8381,"v":0.35},{"wl":8385,"v":0.29},{"wl":8390,"v":0.60},{"wl":8393,"v":1.1},{"wl":8396,"v":0.55},{"wl":8399,"v":0.28},{"wl":8405,"v":0.35},{"wl":8410,"v":0.75},{"wl":8413,"v":0.40},{"wl":8417,"v":0.29},{"wl":8422,"v":0.60},{"wl":8425,"v":1.1},{"wl":8428,"v":0.60},{"wl":8432,"v":0.32},{"wl":8438,"v":0.28},{"wl":8443,"v":0.45},{"wl":8446,"v":0.70},{"wl":8450,"v":0.40},{"wl":8454,"v":0.29},{"wl":8458,"v":0.60},{"wl":8460,"v":1.1},{"wl":8463,"v":0.55},{"wl":8466,"v":0.32},{"wl":8473,"v":0.28},{"wl":8480,"v":0.27},{"wl":8485,"v":0.40},{"wl":8488,"v":0.59},{"wl":8491,"v":0.40},{"wl":8494,"v":0.32},{"wl":8497,"v":0.50},{"wl":8499,"v":0.80},{"wl":8502,"v":0.45},{"wl":8505,"v":0.27},{"wl":8515,"v":0.29},{"wl":8522,"v":0.27},{"wl":8534,"v":0.29},{"wl":8539,"v":0.40},{"wl":8543,"v":0.57},{"wl":8547,"v":0.35},{"wl":8550,"v":0.28},{"wl":8560,"v":0.27},{"wl":8572,"v":0.31},{"wl":8577,"v":0.28},{"wl":8583,"v":0.38},{"wl":8587,"v":0.30},{"wl":8591,"v":0.42},{"wl":8596,"v":0.28},{"wl":8606,"v":0.31},{"wl":8611,"v":0.50},{"wl":8614,"v":0.62},{"wl":8620,"v":0.74},{"wl":8625,"v":0.78},{"wl":8630,"v":0.74},{"wl":8635,"v":0.55},{"wl":8639,"v":0.41},{"wl":8644,"v":0.75},{"wl":8650,"v":0.84},{"wl":8655,"v":0.84},{"wl":8661,"v":0.72},{"wl":8667,"v":0.55},{"wl":8673,"v":0.40},{"wl":8678,"v":0.36},{"wl":8684,"v":0.33},{"wl":8690,"v":0.37},{"wl":8696,"v":0.33},{"wl":8699,"v":0.38},{"wl":8705,"v":0.30},{"wl":8712,"v":0.30},{"wl":8720,"v":0.28},{"wl":8728,"v":0.31},{"wl":8735,"v":0.28},{"wl":8741,"v":0.30},{"wl":8747,"v":0.29},{"wl":8750,"v":0.50},{"wl":8754,"v":1.1},{"wl":8758,"v":0.70},{"wl":8760,"v":0.52},{"wl":8763,"v":0.80},{"wl":8766,"v":1.1},{"wl":8770,"v":1.1},{"wl":8775,"v":1.1},{"wl":8778,"v":0.60},{"wl":8782,"v":0.46},{"wl":8787,"v":0.30},{"wl":8792,"v":0.30},{"wl":8798,"v":0.31},{"wl":8804,"v":0.30},{"wl":8808,"v":0.38},{"wl":8811,"v":0.38},{"wl":8815,"v":0.50},{"wl":8819,"v":1.1},{"wl":8822,"v":0.60},{"wl":8825,"v":1.1},{"wl":8828,"v":0.60},{"wl":8831,"v":1.1},{"wl":8834,"v":0.50},{"wl":8838,"v":0.35},{"wl":8843,"v":0.30},{"wl":8848,"v":0.32},{"wl":8853,"v":0.45},{"wl":8857,"v":0.60},{"wl":8861,"v":0.93},{"wl":8865,"v":0.50},{"wl":8868,"v":0.34},{"wl":8872,"v":0.60},{"wl":8876,"v":1.1},{"wl":8879,"v":0.60},{"wl":8881,"v":0.55},{"wl":8884,"v":0.40},{"wl":8887,"v":0.33},{"wl":8890,"v":0.70},{"wl":8892,"v":1.1},{"wl":8895,"v":0.60},{"wl":8899,"v":1.1},{"wl":8903,"v":0.60},{"wl":8907,"v":0.52},{"wl":8910,"v":0.70},{"wl":8913,"v":1.1},{"wl":8916,"v":0.55},{"wl":8922,"v":0.42},{"wl":8927,"v":0.35},{"wl":8931,"v":0.55},{"wl":8935,"v":0.94},{"wl":8938,"v":0.60},{"wl":8941,"v":0.40},{"wl":8945,"v":0.60},{"wl":8948,"v":1.1},{"wl":8951,"v":0.70},{"wl":8954,"v":1.1},{"wl":8957,"v":0.55},{"wl":8960,"v":0.37},{"wl":8964,"v":0.40},{"wl":8967,"v":0.39},{"wl":8971,"v":0.35},{"wl":8975,"v":0.48},{"wl":8979,"v":0.70},{"wl":8983,"v":0.93},{"wl":8986,"v":0.65},{"wl":8990,"v":0.80},{"wl":8994,"v":1.1},{"wl":8998,"v":0.60},{"wl":9002,"v":0.34},{"wl":9009,"v":0.34},{"wl":9021,"v":0.37},{"wl":9028,"v":0.36},{"wl":9032,"v":0.35},{"wl":9038,"v":0.50},{"wl":9042,"v":0.81},{"wl":9045,"v":0.45},{"wl":9047,"v":0.35},{"wl":9055,"v":0.39},{"wl":9061,"v":0.33},{"wl":9070,"v":0.35},{"wl":9078,"v":0.37},{"wl":9081,"v":0.45},{"wl":9084,"v":0.52},{"wl":9087,"v":0.40},{"wl":9089,"v":0.37},{"wl":9093,"v":0.45},{"wl":9095,"v":0.61},{"wl":9098,"v":0.40},{"wl":9101,"v":0.34},{"wl":9112,"v":0.33},{"wl":9120,"v":0.34},{"wl":9127,"v":0.35},{"wl":9135,"v":0.35},{"wl":9139,"v":0.37},{"wl":9142,"v":0.45},{"wl":9145,"v":0.48},{"wl":9148,"v":0.42},{"wl":9154,"v":0.53},{"wl":9158,"v":0.40},{"wl":9160,"v":0.36},{"wl":9173,"v":0.35},{"wl":9188,"v":0.35},{"wl":9199,"v":0.37},{"wl":9211,"v":0.37},{"wl":9217,"v":0.52},{"wl":9221,"v":0.40},{"wl":9224,"v":0.37},{"wl":9234,"v":0.36},{"wl":9241,"v":0.40},{"wl":9245,"v":0.43},{"wl":9249,"v":0.38},{"wl":9253,"v":0.38},{"wl":9257,"v":0.47},{"wl":9260,"v":0.40},{"wl":9264,"v":0.38},{"wl":9272,"v":0.38},{"wl":9276,"v":0.45},{"wl":9278,"v":0.51},{"wl":9281,"v":0.46},{"wl":9283,"v":0.47},{"wl":9287,"v":0.54},{"wl":9291,"v":0.45},{"wl":9295,"v":0.46},{"wl":9297,"v":0.46}
    ],
    "model": [
      {"wl":4750,"v":0},{"wl":9301,"v":0}
    ]
  },
  "encoding": {
    "x": {
      "field": "wl",
      "type": "quantitative",
      "scale": {"domain": [4750, 9301], "nice": false, "zero": false},
      "axis": {
        "values": [5000, 6000, 7000, 8000, 9000],
        "format": "d",
        "labelFontSize": 29,
        "labelPadding": 15,
        "labelOverlap": false,
        "labelFlush": false,
        "title": "Wavelength",
        "titleFontSize": 31,
        "titleY": 85,
        "titleBaseline": "alphabetic"
      }
    },
    "y": {
      "field": "v",
      "type": "quantitative",
      "scale": {"domain": [-0.915, 1.008], "nice": false, "zero": false},
      "axis": {
        "values": [-0.75, -0.5, -0.25, 0, 0.25, 0.5, 0.75, 1],
        "format": ".2f",
        "labelFontSize": 35,
        "labelPadding": 18,
        "labelOverlap": false,
        "title": "10⁻¹⁸ erg s⁻¹ cm⁻² Å⁻¹",
        "titleFontSize": 44,
        "titleAngle": -90,
        "titleX": -173,
        "titleY": 370,
        "titleAlign": "center",
        "titleBaseline": "alphabetic"
      }
    }
  },
  "layer": [
    {"data": {"name": "flux"}, "mark": {"type": "line", "color": "#000000", "strokeWidth": 4, "clip": true}},
    {"data": {"name": "noise"}, "mark": {"type": "line", "color": "#008000", "strokeWidth": 1.3, "clip": true}},
    {"data": {"name": "model"}, "mark": {"type": "line", "color": "#0000ff", "strokeWidth": 6, "clip": true}}
  ],
  "config": {
    "view": {"stroke": "#000000", "strokeWidth": 3},
    "axis": {
      "domain": false,
      "grid": false,
      "ticks": true,
      "tickColor": "#000000",
      "tickWidth": 3,
      "tickSize": 14,
      "labelColor": "#000000",
      "titleColor": "#000000",
      "labelFont": "DejaVu Sans",
      "titleFont": "DejaVu Sans",
      "titleFontWeight": "normal"
    }
  }
}
